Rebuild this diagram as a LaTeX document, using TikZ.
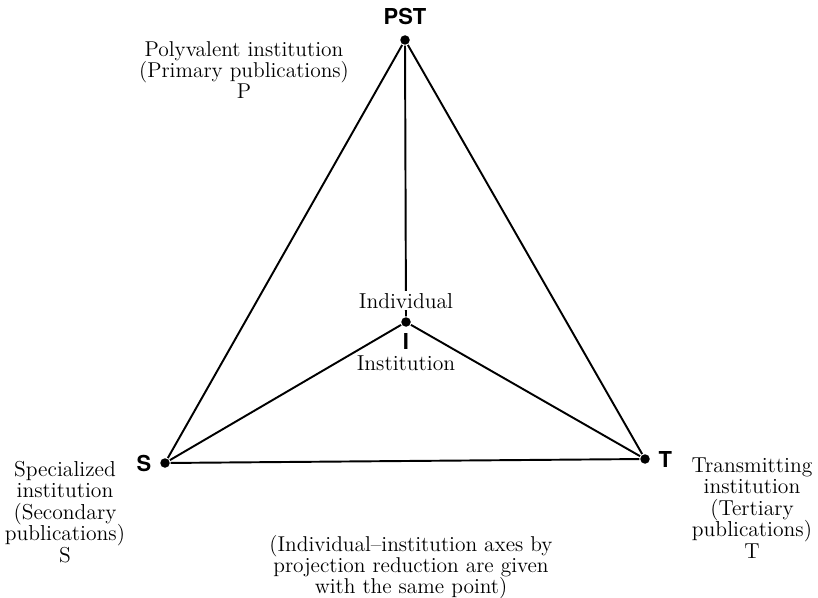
\documentclass[tikz,border=0pt]{standalone}
\usepackage{fontspec}
\newfontfamily\headfont{TeX Gyre Heros}
\usetikzlibrary{positioning}

\newcommand\squeezelines{\lineskiplimit-8pt\relax}

\tikzset{
	vertex/.style={circle,fill,inner sep=0pt,minimum size=0.19cm},
	tag/.style={font=\headfont\bfseries\fontsize{12.5}{14}\selectfont,inner sep=1pt},
	caption/.style={align=center,font=\fontsize{12.3}{12.2}\selectfont\squeezelines,inner sep=1pt},
	tight/.style={caption,font=\fontsize{12.2}{11.9}\selectfont\squeezelines},
}

\begin{document}
\begin{tikzpicture}[x=0.02cm,y=-0.02cm,line width=1.1pt]
	\useasboundingbox (0,0) rectangle (818,598);

	% the four points
	\node[vertex] (pst) at (405,40) {};
	\node[vertex] (i) at (406,322) {};
	\node[vertex] (s) at (165,463) {};
	\node[vertex] (t) at (645,459) {};

	\draw (pst) -- (s);
	\draw (pst) -- (t);
	\draw (pst) -- (i);
	\draw (s) -- (i);
	\draw (i) -- (t);
	\draw (s) -- (t);

	\node[tag, above=4pt of pst] (pstlbl) {PST};
	\node[tag, below=2pt of i] (ilbl) {I};
	\node[tag, left=3pt of s] (slbl) {S};
	\node[tag, right=3pt of t] (tlbl) {T};

	\node[caption, fill=white, above=3pt of i] (indiv) {Individual};
	\node[caption, below=0pt of ilbl] (inst) {Institution};

	\node[tight] (ptext) at (244,70) {Polyvalent institution\\(Primary publications)\\P};
	\node[caption] (stext) at (65,512) {Specialized\\institution\\(Secondary\\publications)\\S};
	\node[caption] (ttext) at (752,508) {Transmitting\\institution\\(Tertiary\\publications)\\T};
	\node[tight] (note) at (411,567) {(Individual--institution axes by\\projection reduction are given\\with the same point)};
\end{tikzpicture}
\end{document}
